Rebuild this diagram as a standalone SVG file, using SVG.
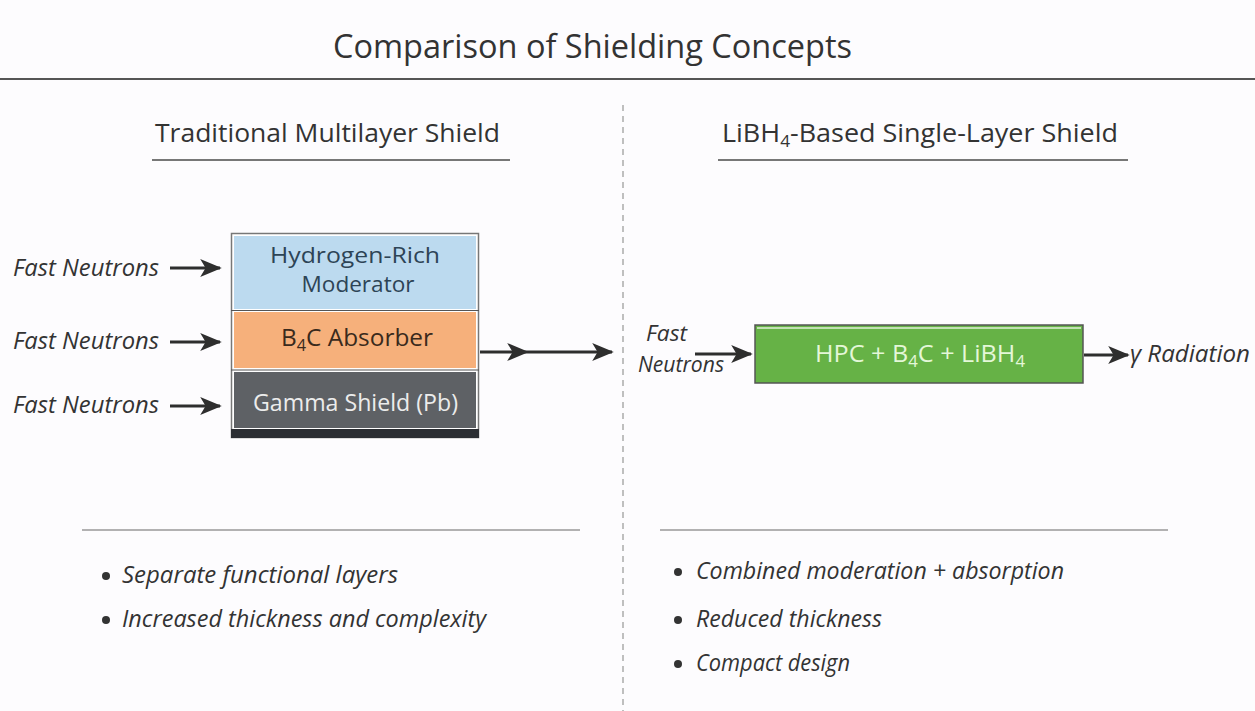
<svg xmlns="http://www.w3.org/2000/svg" width="1255" height="711" viewBox="0 0 1255 711">
<defs>
<style>
.t{font-family:"Open Sans","Noto Sans","Liberation Sans",sans-serif;fill:#333}
.it{font-style:italic}
.conn{stroke:#2e2e2e;stroke-width:3;fill:none}
</style>
<marker id="ah" viewBox="0 0 12 10" refX="11" refY="5" markerWidth="7.5" markerHeight="6" markerUnits="strokeWidth" orient="auto">
<path d="M0,0 L12,5 L0,10 L3,5 Z" fill="#2e2e2e"/>
</marker>
</defs>
<rect width="1255" height="711" fill="#fdfcfe"/>
<g id="title">
<text class="t" x="592.5" y="58" font-size="32" text-anchor="middle" textLength="519" lengthAdjust="spacingAndGlyphs">Comparison of Shielding Concepts</text>
<line x1="0" y1="79" x2="1255" y2="79" stroke="#555" stroke-width="2"/>
</g>
<line id="divider" x1="623" y1="105" x2="623" y2="711" stroke="#aaa" stroke-width="1.5" stroke-dasharray="6,5"/>
<g id="left-heading">
<text class="t" x="327.5" y="142" font-size="25" text-anchor="middle" textLength="345" lengthAdjust="spacingAndGlyphs">Traditional Multilayer Shield</text>
<line x1="152" y1="160" x2="510" y2="160" stroke="#777" stroke-width="2"/>
</g>
<g id="right-heading">
<text class="t" x="920" y="142" font-size="25" text-anchor="middle" textLength="396" lengthAdjust="spacingAndGlyphs">LiBH<tspan font-size="16" dy="5">4</tspan><tspan dy="-5">-Based Single-Layer Shield</tspan></text>
<line x1="718" y1="160" x2="1128" y2="160" stroke="#777" stroke-width="2"/>
</g>
<g id="stack">
<rect x="231.5" y="233.5" width="247" height="204" fill="#fff" stroke="#777" stroke-width="1.5"/>
<rect id="moderator" x="234" y="236" width="242" height="73" fill="#bcdaef"/>
<rect id="absorber" x="234" y="312" width="242" height="56" fill="#f6b07b"/>
<rect id="gamma" x="234" y="372" width="242" height="56" fill="#5e6165"/>
<rect x="231" y="429" width="248" height="9" fill="#2b2e33"/>
<line x1="231" y1="310.5" x2="479" y2="310.5" stroke="#555" stroke-width="1.2"/>
<line x1="231" y1="370" x2="479" y2="370" stroke="#555" stroke-width="1.2"/>
<text class="t" x="355" y="263" font-size="21" text-anchor="middle" textLength="170" lengthAdjust="spacingAndGlyphs" style="fill:#2d4456">Hydrogen-Rich</text>
<text class="t" x="358" y="292" font-size="21" text-anchor="middle" textLength="113" lengthAdjust="spacingAndGlyphs" style="fill:#2d4456">Moderator</text>
<text class="t" x="357" y="346" font-size="24" text-anchor="middle" textLength="152" lengthAdjust="spacingAndGlyphs" style="fill:#3a2a1c">B<tspan font-size="16" dy="5">4</tspan><tspan dy="-5">C Absorber</tspan></text>
<text class="t" x="355.5" y="411" font-size="24" text-anchor="middle" textLength="205" lengthAdjust="spacingAndGlyphs" style="fill:#ececec">Gamma Shield (Pb)</text>
</g>
<g id="left-inputs">
<text class="t it" x="13" y="276" font-size="23" textLength="146" lengthAdjust="spacingAndGlyphs">Fast Neutrons</text>
<text class="t it" x="13" y="349" font-size="23" textLength="146" lengthAdjust="spacingAndGlyphs">Fast Neutrons</text>
<text class="t it" x="13" y="413" font-size="23" textLength="146" lengthAdjust="spacingAndGlyphs">Fast Neutrons</text>
</g>
<g id="hpc">
<rect x="755" y="325" width="328" height="58" fill="#66b246" stroke="#555" stroke-width="1.5"/>
<rect x="757" y="327" width="324" height="2" fill="#e8f5e0" opacity="0.7"/>
<text class="t" x="920" y="362" font-size="24" text-anchor="middle" textLength="210" lengthAdjust="spacingAndGlyphs" style="fill:#e4f7d8">HPC + B<tspan font-size="16" dy="5">4</tspan><tspan dy="-5">C + LiBH</tspan><tspan font-size="16" dy="5">4</tspan></text>
</g>
<g id="right-labels">
<text class="t it" x="646" y="341" font-size="21" textLength="41" lengthAdjust="spacingAndGlyphs">Fast</text>
<text class="t it" x="638" y="372" font-size="21" textLength="86" lengthAdjust="spacingAndGlyphs">Neutrons</text>
<text class="t it" x="1130" y="362" font-size="23" textLength="120" lengthAdjust="spacingAndGlyphs">γ Radiation</text>
</g>
<g id="connectors">
<line class="conn" x1="170" y1="268" x2="220" y2="268" marker-end="url(#ah)"/>
<line class="conn" x1="170" y1="342" x2="220" y2="342" marker-end="url(#ah)"/>
<line class="conn" x1="170" y1="406" x2="220" y2="406" marker-end="url(#ah)"/>
<path class="conn" d="M480,352 L527,352 L612,352" marker-mid="url(#ah)" marker-end="url(#ah)"/>
<line class="conn" x1="695" y1="354" x2="751" y2="354" marker-end="url(#ah)"/>
<line class="conn" x1="1084" y1="355" x2="1128" y2="355" marker-end="url(#ah)"/>
</g>
<g id="left-notes">
<line x1="82" y1="530" x2="580" y2="530" stroke="#999" stroke-width="1.5"/>
<circle cx="106" cy="576" r="4" fill="#333"/>
<text class="t it" x="122" y="583" font-size="23" textLength="276" lengthAdjust="spacingAndGlyphs">Separate functional layers</text>
<circle cx="106" cy="620" r="4" fill="#333"/>
<text class="t it" x="122" y="627" font-size="23" textLength="364" lengthAdjust="spacingAndGlyphs">Increased thickness and complexity</text>
</g>
<g id="right-notes">
<line x1="660" y1="530" x2="1168" y2="530" stroke="#999" stroke-width="1.5"/>
<circle cx="678" cy="572" r="4" fill="#333"/>
<text class="t it" x="696" y="579" font-size="23" textLength="368" lengthAdjust="spacingAndGlyphs">Combined moderation + absorption</text>
<circle cx="678" cy="620" r="4" fill="#333"/>
<text class="t it" x="696" y="627" font-size="23" textLength="186" lengthAdjust="spacingAndGlyphs">Reduced thickness</text>
<circle cx="678" cy="664" r="4" fill="#333"/>
<text class="t it" x="696" y="671" font-size="23" textLength="154" lengthAdjust="spacingAndGlyphs">Compact design</text>
</g>
</svg>
